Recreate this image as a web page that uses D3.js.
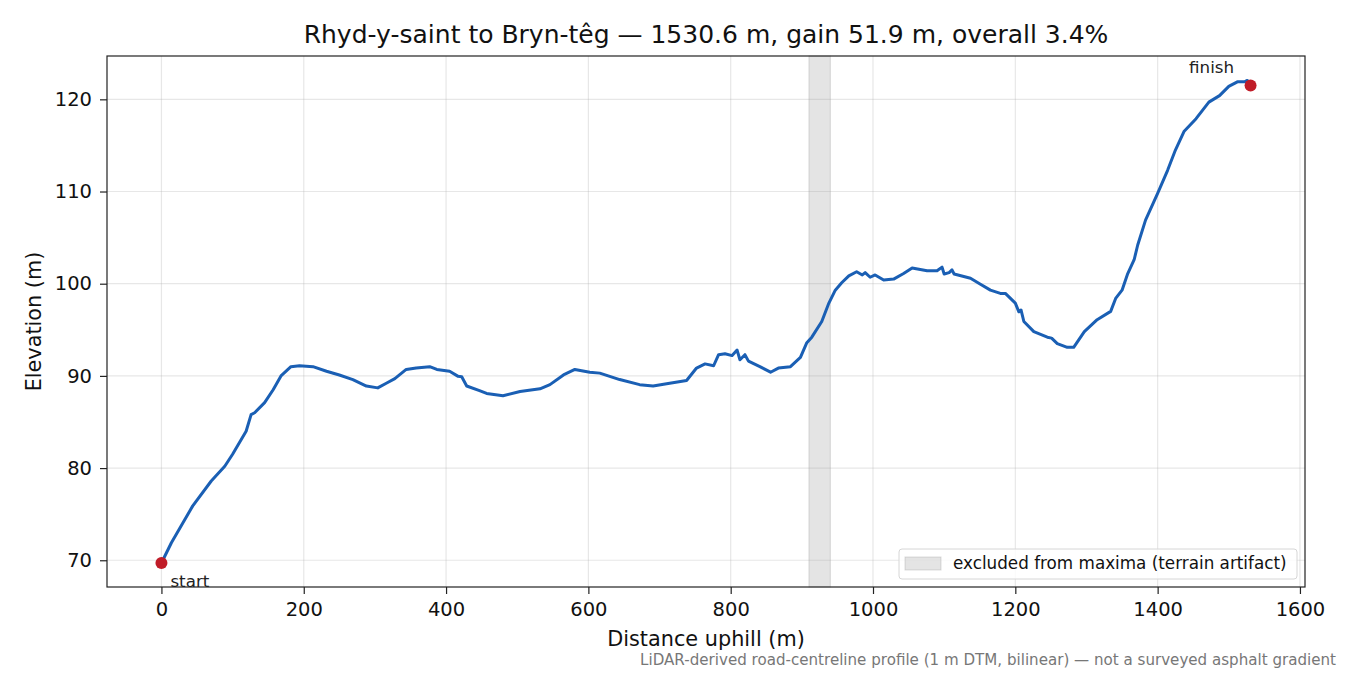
<!DOCTYPE html>
<html>
<head>
<meta charset="utf-8">
<script src="https://cdn.jsdelivr.net/npm/d3@7"></script>
<style>
  body { margin: 0; background: #fff; }
  text { font-family: "DejaVu Sans", sans-serif; }
</style>
</head>
<body>
<div id="chart"></div>
<script>
// profile samples (distance m, elevation m)
var distances = [0, 14, 44, 70, 89, 100, 119, 126, 131, 145, 157, 168, 182, 194, 213, 232, 250, 269, 288, 304, 316, 328, 344, 358, 377, 387, 405, 417, 422, 429, 447, 457, 480, 504, 532, 546, 565, 581, 602, 616, 644, 672, 691, 710, 738, 752, 764, 776, 783, 792, 802, 809, 813, 820, 825, 841, 856, 867, 884, 898, 907, 914, 928, 938, 947, 956, 966, 977, 985, 989, 996, 1003, 1015, 1029, 1043, 1055, 1076, 1090, 1097, 1100, 1107, 1111, 1114, 1137, 1151, 1165, 1179, 1186, 1200, 1205, 1208, 1212, 1226, 1245, 1251, 1259, 1273, 1282, 1297, 1315, 1334, 1341, 1350, 1358, 1367, 1372, 1383, 1400, 1414, 1425, 1437, 1454, 1472, 1487, 1500, 1512, 1522, 1526, 1530.6];
var elevations = [69.7, 71.9, 75.9, 78.6, 80.2, 81.5, 84.0, 85.8, 86.0, 87.1, 88.5, 90.0, 91.0, 91.1, 91.0, 90.5, 90.1, 89.6, 88.9, 88.7, 89.2, 89.7, 90.7, 90.85, 91.0, 90.7, 90.5, 89.95, 89.9, 88.9, 88.4, 88.1, 87.85, 88.3, 88.6, 89.05, 90.1, 90.7, 90.4, 90.3, 89.6, 89.05, 88.9, 89.15, 89.5, 90.85, 91.3, 91.1, 92.3, 92.4, 92.2, 92.8, 91.75, 92.3, 91.6, 91.0, 90.4, 90.85, 91.0, 92.0, 93.6, 94.2, 95.9, 97.9, 99.3, 100.1, 100.85, 101.3, 100.95, 101.2, 100.7, 100.95, 100.4, 100.5, 101.1, 101.7, 101.4, 101.4, 101.8, 101.05, 101.2, 101.5, 101.05, 100.6, 99.95, 99.3, 98.95, 98.95, 97.9, 96.95, 97.15, 95.9, 94.8, 94.2, 94.1, 93.5, 93.1, 93.1, 94.8, 96.1, 97.0, 98.4, 99.3, 101.1, 102.6, 104.2, 106.9, 109.8, 112.3, 114.5, 116.5, 117.9, 119.7, 120.4, 121.4, 121.9, 121.9, 122.05, 121.5];
var excludedBand = [910, 940];
var xTicks = [0, 200, 400, 600, 800, 1000, 1200, 1400, 1600];
var yTicks = [70, 80, 90, 100, 110, 120];

var titleText = "Rhyd-y-saint to Bryn-têg — 1530.6 m, gain 51.9 m, overall 3.4%";
var footText = "LiDAR-derived road-centreline profile (1 m DTM, bilinear) — not a surveyed asphalt gradient";

var svgWidth = 1350;
var svgHeight = 675;
var margin = { top: 56, right: 45, bottom: 88, left: 107 };
var width = svgWidth - margin.left - margin.right;
var height = svgHeight - margin.top - margin.bottom;

var profile = distances.map(function(d, i) { return { x: d, y: elevations[i] }; });

var svg = d3.select("#chart").append("svg")
  .attr("width", svgWidth)
  .attr("height", svgHeight);

var chartGroup = svg.append("g")
  .attr("transform", `translate(${margin.left}, ${margin.top})`);

// 5% padding like the original
var xLinearScale = d3.scaleLinear().domain([-76.5, 1607.1]).range([0, width]);
var yLinearScale = d3.scaleLinear().domain([67.1, 124.7]).range([height, 0]);

// grid
chartGroup.append("g").selectAll("line").data(xTicks).enter().append("line")
  .attr("x1", d => xLinearScale(d)).attr("x2", d => xLinearScale(d))
  .attr("y1", 0).attr("y2", height)
  .attr("stroke", "#b0b0b0").attr("stroke-opacity", 0.3).attr("stroke-width", 1.2);
chartGroup.append("g").selectAll("line").data(yTicks).enter().append("line")
  .attr("x1", 0).attr("x2", width)
  .attr("y1", d => yLinearScale(d)).attr("y2", d => yLinearScale(d))
  .attr("stroke", "#b0b0b0").attr("stroke-opacity", 0.3).attr("stroke-width", 1.2);

// excluded band
chartGroup.append("rect")
  .attr("x", xLinearScale(excludedBand[0]))
  .attr("width", xLinearScale(excludedBand[1]) - xLinearScale(excludedBand[0]))
  .attr("y", 0).attr("height", height)
  .attr("fill", "#9a9a9a").attr("fill-opacity", 0.27)
  .attr("stroke", "#9a9a9a").attr("stroke-opacity", 0.35).attr("stroke-width", 1);

// profile line
var line = d3.line().x(d => xLinearScale(d.x)).y(d => yLinearScale(d.y));
chartGroup.append("path")
  .datum(profile)
  .attr("d", line)
  .attr("fill", "none")
  .attr("stroke", "#1a5fb4")
  .attr("stroke-width", 3)
  .attr("stroke-linejoin", "round");

// start / finish markers
var ends = [profile[0], profile[profile.length - 1]];
chartGroup.append("g").selectAll("circle").data(ends).enter().append("circle")
  .attr("cx", d => xLinearScale(d.x))
  .attr("cy", d => yLinearScale(d.y))
  .attr("r", 6)
  .attr("fill", "#c01c28");

chartGroup.append("text")
  .attr("x", xLinearScale(ends[0].x) + 9)
  .attr("y", yLinearScale(ends[0].y) + 24)
  .attr("font-size", "16.7px").attr("fill", "#222")
  .text("start");
chartGroup.append("text")
  .attr("x", xLinearScale(ends[1].x) - 39)
  .attr("y", yLinearScale(ends[1].y) - 13)
  .attr("text-anchor", "middle")
  .attr("font-size", "16.7px").attr("fill", "#222")
  .text("finish");

// axes
var bottomAxis = d3.axisBottom(xLinearScale).tickValues(xTicks).tickFormat(d3.format("d")).tickSize(7).tickPadding(8);
var leftAxis = d3.axisLeft(yLinearScale).tickValues(yTicks).tickFormat(d3.format("d")).tickSize(7).tickPadding(8);

var xAxis = chartGroup.append("g")
  .attr("transform", `translate(0, ${height})`)
  .call(bottomAxis);
var yAxis = chartGroup.append("g").call(leftAxis);

[xAxis, yAxis].forEach(function(ax) {
  ax.select(".domain").remove();
  ax.selectAll("line").attr("stroke", "#222").attr("stroke-width", 1.2);
  ax.selectAll("text").attr("font-family", "DejaVu Sans").attr("font-size", "19.5px").attr("fill", "#111");
});

// frame
chartGroup.append("rect")
  .attr("width", width).attr("height", height)
  .attr("fill", "none").attr("stroke", "#222").attr("stroke-width", 1.2);

// legend
var legend = chartGroup.append("g")
  .attr("transform", `translate(${width - 406}, ${height - 38})`);
legend.append("rect")
  .attr("width", 398).attr("height", 30).attr("rx", 3)
  .attr("fill", "#fff").attr("fill-opacity", 0.8)
  .attr("stroke", "#d6d6d6");
legend.append("rect")
  .attr("x", 6).attr("y", 8).attr("width", 36).attr("height", 13)
  .attr("fill", "#9a9a9a").attr("fill-opacity", 0.27)
  .attr("stroke", "#9a9a9a").attr("stroke-opacity", 0.35);
legend.append("text")
  .attr("x", 54).attr("y", 20)
  .attr("font-size", "16.8px").attr("fill", "#111")
  .text("excluded from maxima (terrain artifact)");

// labels
svg.append("text")
  .attr("x", margin.left + width / 2).attr("y", 43)
  .attr("text-anchor", "middle")
  .attr("font-size", "25px").attr("fill", "#111")
  .text(titleText);

svg.append("text")
  .attr("x", margin.left + width / 2).attr("y", 646)
  .attr("text-anchor", "middle")
  .attr("font-size", "20.8px").attr("fill", "#111")
  .text("Distance uphill (m)");

svg.append("text")
  .attr("transform", `translate(41, ${margin.top + height / 2}) rotate(-90)`)
  .attr("text-anchor", "middle")
  .attr("font-size", "20.8px").attr("fill", "#111")
  .text("Elevation (m)");

svg.append("text")
  .attr("x", 1336).attr("y", 665)
  .attr("text-anchor", "end")
  .attr("font-size", "15.1px").attr("fill", "#777")
  .text(footText);
</script>
</body>
</html>
